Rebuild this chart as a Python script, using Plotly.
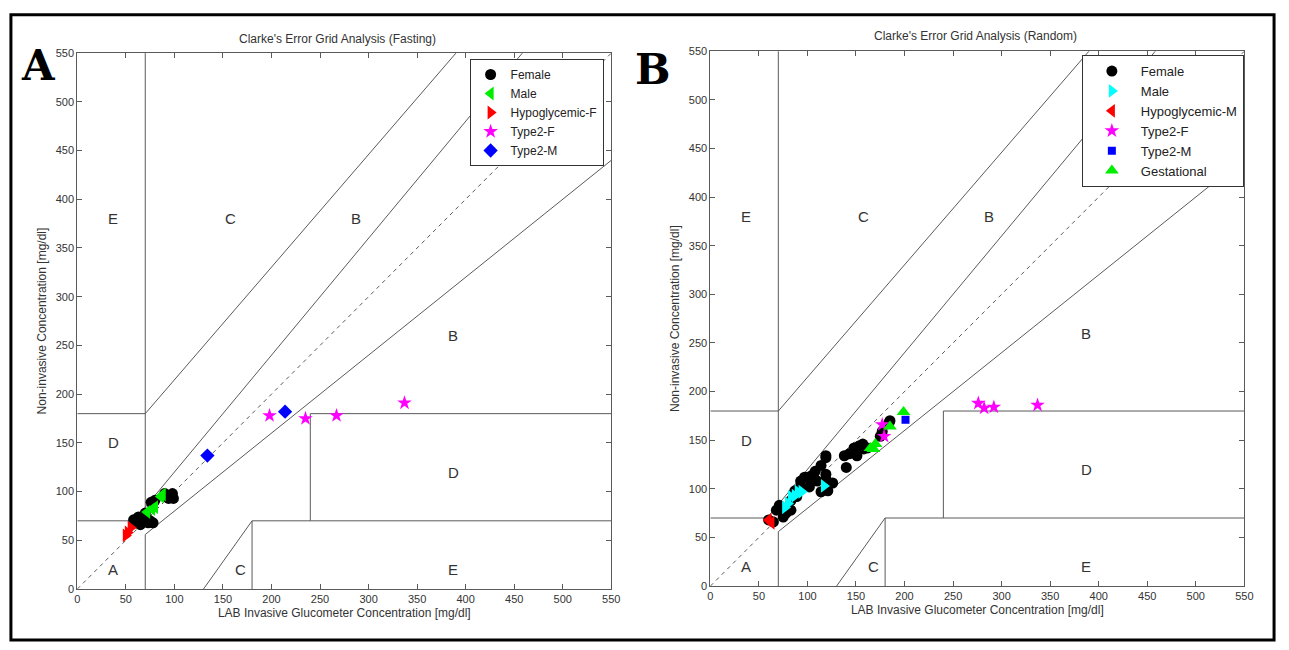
import plotly.graph_objects as go

W, H = 1289, 650

# ---------------- data: panel A (Fasting) ----------------
a_female_x = [58, 63, 68, 73, 78, 70, 76, 80, 90, 98, 99, 94, 65, 60, 72, 75]
a_female_y = [71, 74, 70, 68, 68, 78, 89, 91, 98, 98, 93, 93, 66, 68, 72, 70]
a_male_x = [72, 77, 80, 88, 86]
a_male_y = [79, 82, 84, 97, 95]
a_hypo_x = [50, 52, 55]
a_hypo_y = [55, 58, 63]
a_t2f_x = [198, 235, 267, 337]
a_t2f_y = [178, 175, 178, 191]
a_t2m_x = [134, 214]
a_t2m_y = [137, 182]

# ---------------- data: panel B (Random) ----------------
b_female_x = [60, 68, 71, 75, 83, 83, 87, 93, 97, 100, 104, 105, 93, 102, 110, 114, 119, 119,
              119, 121, 114, 138, 140, 148, 151, 153, 157, 158, 162, 185, 175, 177, 119, 143,
              184, 65, 78, 89, 108, 126]
b_female_y = [68, 78, 83, 71, 78, 88, 98, 108, 112, 112, 108, 114, 102, 102, 108, 124, 115, 110,
              134, 98, 97, 134, 122, 142, 134, 144, 146, 141, 142, 170, 154, 159, 132, 136,
              168, 66, 75, 92, 118, 106]
b_male_x = [80, 83, 87, 90, 94, 77, 117]
b_male_y = [85, 92, 93, 97, 97, 81, 103]
b_hypo_x = [63, 60]
b_hypo_y = [65, 68]
b_t2f_x = [177, 179, 276, 282, 292, 337]
b_t2f_y = [166, 154, 188, 183, 184, 186]
b_t2m_x = [201]
b_t2m_y = [171]
b_gest_x = [199, 185, 170, 165, 168]
b_gest_y = [179, 164, 146, 142, 141]

tick_vals = list(range(0, 551, 50))

# Clarke error grid boundaries (x pairs, y pairs)
grid_x = [[0, 175 / 3], [175 / 3, 550 / 1.2], [70, 70], [0, 70], [70, 390], [70, 70],
          [70, 550], [180, 180], [180, 550], [240, 240], [240, 550], [130, 180]]
grid_y = [[70, 70], [70, 550], [84, 550], [180, 180], [180, 550], [0, 56],
          [56, 440], [0, 70], [70, 70], [70, 180], [180, 180], [0, 70]]
diag = [0, 550]

zone_labels = ["A", "D", "E", "C", "C", "E", "D", "B", "B"]
zone_lx = [30, 30, 30, 150, 160, 380, 380, 380, 280]
zone_ly = [20, 150, 380, 380, 20, 20, 120, 260, 380]

FONT = "Liberation Sans, Arial, sans-serif"
LINEC = "#5a5a5a"

fig = go.Figure()


def add_grid(xa, ya):
    for gx, gy in zip(grid_x, grid_y):
        fig.add_trace(go.Scatter(x=gx, y=gy, mode="lines", xaxis=xa, yaxis=ya,
                                 line=dict(color=LINEC, width=1), showlegend=False,
                                 hoverinfo="skip"))
    fig.add_trace(go.Scatter(x=diag, y=diag, mode="lines", xaxis=xa, yaxis=ya,
                             line=dict(color=LINEC, width=1, dash="4px,4px"),
                             showlegend=False, hoverinfo="skip"))


def add_pts(x, y, name, symbol, color, size, xa, ya, leg):
    fig.add_trace(go.Scatter(x=x, y=y, mode="markers", name=name, xaxis=xa, yaxis=ya,
                             legend=leg,
                             marker=dict(symbol=symbol, color=color, size=size,
                                         line=dict(width=0))))


add_grid("x", "y")
add_pts(a_female_x, a_female_y, "Female", "circle", "black", 11, "x", "y", "legend")
add_pts(a_male_x, a_male_y, "Male", "triangle-left", "#00ee00", 12, "x", "y", "legend")
add_pts(a_hypo_x, a_hypo_y, "Hypoglycemic-F", "triangle-right", "red", 12, "x", "y", "legend")
add_pts(a_t2f_x, a_t2f_y, "Type2-F", "star", "magenta", 11, "x", "y", "legend")
add_pts(a_t2m_x, a_t2m_y, "Type2-M", "diamond", "blue", 11, "x", "y", "legend")

add_grid("x2", "y2")
add_pts(b_female_x, b_female_y, "Female", "circle", "black", 11, "x2", "y2", "legend2")
add_pts(b_male_x, b_male_y, "Male", "triangle-right", "cyan", 12, "x2", "y2", "legend2")
add_pts(b_hypo_x, b_hypo_y, "Hypoglycemic-M", "triangle-left", "red", 12, "x2", "y2", "legend2")
add_pts(b_t2f_x, b_t2f_y, "Type2-F", "star", "magenta", 11, "x2", "y2", "legend2")
add_pts(b_t2m_x, b_t2m_y, "Type2-M", "square", "blue", 8, "x2", "y2", "legend2")
add_pts(b_gest_x, b_gest_y, "Gestational", "triangle-up", "#00ee00", 12, "x2", "y2", "legend2")

axis_common = dict(range=[0, 550], tickvals=tick_vals, ticks="inside", ticklen=5,
                   tickcolor=LINEC, showline=True, linecolor=LINEC, linewidth=1,
                   mirror="ticks", showgrid=False, zeroline=False,
                   tickfont=dict(family=FONT, size=11, color="#333"))

AX = (75 / W, 614 / W)
AY = ((H - 594) / H, (H - 48) / H)
BX = (714 / W, 1253 / W)
BY = ((H - 591) / H, (H - 46) / H)

xt = "LAB Invasive Glucometer Concentration [mg/dl]"
yt = "Non-invasive Concentration [mg/dl]"
tf = dict(family=FONT, size=12, color="#333")

fig.update_layout(
    width=W, height=H, margin=dict(l=0, r=0, t=0, b=0),
    paper_bgcolor="white", plot_bgcolor="white",
    xaxis=dict(domain=AX, anchor="y", title=dict(text=xt, font=tf, standoff=4), **axis_common),
    yaxis=dict(domain=AY, anchor="x", title=dict(text=yt, font=tf, standoff=6), **axis_common),
    xaxis2=dict(domain=BX, anchor="y2", title=dict(text=xt, font=tf, standoff=4), **axis_common),
    yaxis2=dict(domain=BY, anchor="x2", title=dict(text=yt, font=tf, standoff=6), **axis_common),
    legend=dict(x=471 / W, y=(H - 54) / H, xanchor="left", yanchor="top",
                bgcolor="white", bordercolor="#333", borderwidth=1,
                font=dict(family=FONT, size=12, color="#222"), tracegroupgap=0),
    legend2=dict(x=1089 / W, y=(H - 50) / H, xanchor="left", yanchor="top",
                 bgcolor="white", bordercolor="#333", borderwidth=1, itemwidth=48,
                 font=dict(family=FONT, size=13, color="#222"), tracegroupgap=0),
)

annotations = []
for xr, yr in (("x", "y"), ("x2", "y2")):
    for t, lx, ly in zip(zone_labels, zone_lx, zone_ly):
        annotations.append(dict(x=lx, y=ly, xref=xr, yref=yr, text=t, showarrow=False,
                                xanchor="left", yanchor="middle",
                                font=dict(family=FONT, size=15, color="#333")))


def paper_text(px, py, text, font):
    annotations.append(dict(x=px / W, y=(H - py) / H, xref="paper", yref="paper",
                            text=text, showarrow=False, xanchor="center",
                            yanchor="middle", font=font))


paper_text(338, 34, "Clarke's Error Grid Analysis (Fasting)",
           dict(family=FONT, size=12, color="#333"))
paper_text(982, 31, "Clarke's Error Grid Analysis (Random)",
           dict(family=FONT, size=12, color="#333"))
paper_text(36, 61, "<b>A</b>", dict(family="DejaVu Serif, serif", size=42, color="black"))
paper_text(656, 65, "<b>B</b>", dict(family="DejaVu Serif, serif", size=42, color="black"))
fig.update_layout(annotations=annotations)

fig.add_shape(type="rect", xref="paper", yref="paper",
              x0=8 / W, x1=1283 / W, y0=(H - 646) / H, y1=(H - 9) / H,
              line=dict(color="black", width=3))

fig.write_html("out.html", config={"displayModeBar": False},
               post_script="document.body.style.margin='0px';"
                           "document.body.style.overflow='hidden';")
